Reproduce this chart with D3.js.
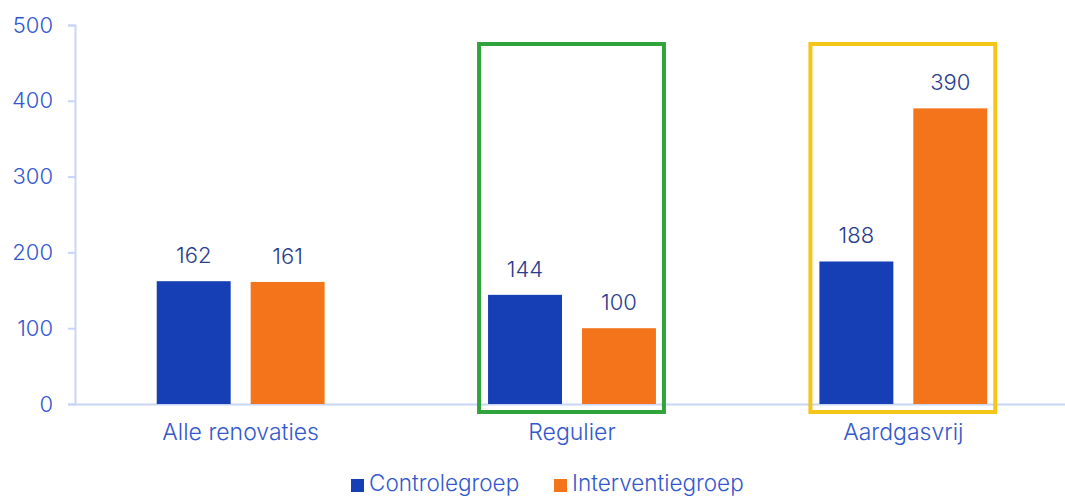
<!DOCTYPE html>
<html>
<head>
<meta charset="utf-8">
<script src="https://cdn.jsdelivr.net/npm/d3@7"></script>
<style>
  html, body { margin: 0; padding: 0; background: #ffffff; }
  svg { display: block; font-family: Inter, "Open Sans", sans-serif; font-weight: 300; }
</style>
</head>
<body>
<svg id="chart" width="1065" height="497"></svg>
<script>
// Categories, series and axis ticks
const categories = ["Alle renovaties", "Regulier", "Aardgasvrij"];
const seriesNames = ["Controlegroep", "Interventiegroep"];
const controlegroep = [162, 144, 188];
const interventiegroep = [161, 100, 390];
const yTicks = [0, 100, 200, 300, 400, 500];
// Highlighted categories and their frame colours
const highlighted = ["Regulier", "Aardgasvrij"];
const highlightColors = ["#2ea43a", "#f5c518"];

const colors = ["#163fb5", "#f4741b"];
const axisColor = "#c8d5f5";
const tickTextColor = "#3358cc";
const valueTextColor = "#283c8c";
const fontFamily = "Inter, 'Open Sans', sans-serif";

const svg = d3.select("#chart");
const W = 1065, H = 497;
const margin = { left: 75, top: 25, bottom: 93 };

const x = d3.scaleBand()
  .domain(categories)
  .range([margin.left, 1069])
  .paddingInner(0).paddingOuter(0);

const y = d3.scaleLinear()
  .domain([0, 500])
  .range([H - margin.bottom, margin.top]);

const xs = d3.scaleBand()
  .domain(seriesNames)
  .range([0, x.bandwidth()])
  .paddingInner(0.2128)
  .paddingOuter(0.87);

const data = categories.map((c, i) => ({
  cat: c,
  values: [
    { s: seriesNames[0], v: controlegroep[i] },
    { s: seriesNames[1], v: interventiegroep[i] }
  ]
}));

// Y axis
const yAxis = d3.axisLeft(y).tickValues(yTicks).tickSize(7).tickPadding(15).tickFormat(d3.format("d"));
const gy = svg.append("g").attr("transform", `translate(${margin.left},0)`).call(yAxis);
gy.selectAll("path, line").attr("stroke", axisColor).attr("stroke-width", 2);
gy.selectAll("text").attr("fill", tickTextColor).attr("font-size", 22)
  .attr("font-family", fontFamily).attr("font-weight", 300);

// X axis
const xAxis = d3.axisBottom(x).tickSize(0).tickPadding(20);
const gx = svg.append("g").attr("transform", `translate(0,${y(0)})`).call(xAxis);
gx.select("path").attr("stroke", axisColor).attr("stroke-width", 2);
gx.selectAll("text").attr("fill", tickTextColor).attr("font-size", 23)
  .attr("font-family", fontFamily).attr("font-weight", 300);

// Bars
const groups = svg.append("g").selectAll("g").data(data).join("g")
  .attr("transform", d => `translate(${x(d.cat)},0)`);

groups.selectAll("rect").data(d => d.values).join("rect")
  .attr("x", d => xs(d.s))
  .attr("width", xs.bandwidth())
  .attr("y", d => y(d.v))
  .attr("height", d => y(0) - y(d.v))
  .attr("fill", (d, i) => colors[i]);

// Value labels
groups.selectAll("text.val").data(d => d.values).join("text")
  .attr("class", "val")
  .attr("x", d => xs(d.s) + xs.bandwidth() / 2)
  .attr("y", d => y(d.v) - 18)
  .attr("text-anchor", "middle")
  .attr("fill", valueTextColor)
  .attr("font-size", 22)
  .text(d => d.v);

// Highlight frames
highlighted.forEach((cat, i) => {
  const x0 = x(cat) + xs(seriesNames[0]) - 9;
  const x1 = x(cat) + xs(seriesNames[1]) + xs.bandwidth() + 8;
  const top = y(500) + 19, bottom = y(0) + 8;
  svg.append("rect")
    .attr("x", x0).attr("y", top)
    .attr("width", x1 - x0)
    .attr("height", bottom - top)
    .attr("fill", "none")
    .attr("stroke", highlightColors[i])
    .attr("stroke-width", 4);
});

// Legend
const legendX = [351, 554];
const legend = svg.append("g");
seriesNames.forEach((s, i) => {
  legend.append("rect")
    .attr("x", legendX[i]).attr("y", 479)
    .attr("width", 13).attr("height", 13)
    .attr("fill", colors[i]);
  legend.append("text")
    .attr("x", legendX[i] + 18).attr("y", 491)
    .attr("fill", tickTextColor)
    .attr("font-size", 22.5)
    .text(s);
});
</script>
</body>
</html>
